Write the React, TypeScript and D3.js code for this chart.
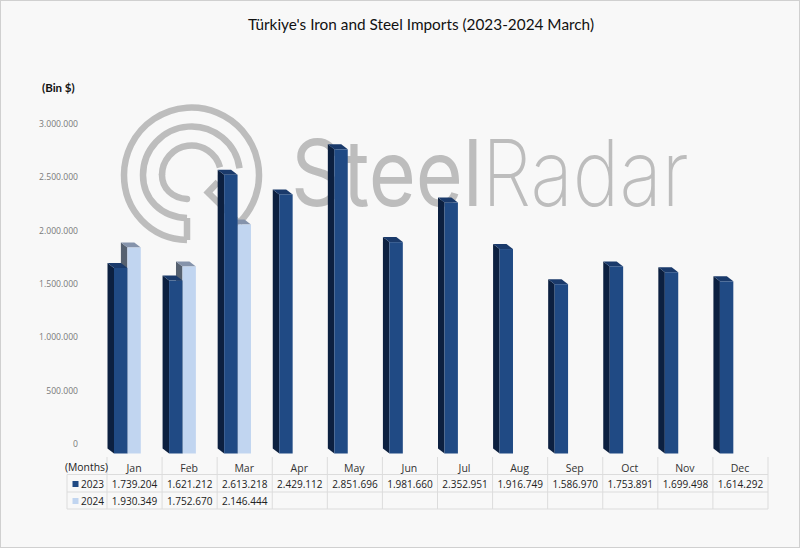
import React from "react";
import * as d3 from "d3";

const months = ["Jan", "Feb", "Mar", "Apr", "May", "Jun", "Jul", "Aug", "Sep", "Oct", "Nov", "Dec"];
const values2023 = [1739204, 1621212, 2613218, 2429112, 2851696, 1981660, 2352951, 1916749, 1586970, 1753891, 1699498, 1614292];
const values2024 = [1930349, 1752670, 2146444];
const yTicks = [0, 500000, 1000000, 1500000, 2000000, 2500000, 3000000];
const title = "Türkiye's Iron and Steel Imports (2023-2024 March)";

const W = 800;
const H = 548;
const FONT = "Lato, 'Open Sans', sans-serif";
const TABLE_FONT = "'Open Sans', Lato, sans-serif";
const fmt = d3.formatLocale({ decimal: ",", thousands: ".", grouping: [3], currency: ["", ""] }).format(",d");

const y = d3.scaleLinear().domain([0, 3000000]).range([453.5, 133.5]);
const x = d3.scaleBand<string>().domain(months).range([107, 768]);
const DX = 6.5;
const DY = 5;
const BAR = 13.4;

const poly = (pts: [number, number][]) => d3.line()(pts) + "Z";

type Colors = { front: string; side: string; top: string };
const C23: Colors = { front: "#204a84", side: "#0c2040", top: "#1a3a6b" };
const C24: Colors = { front: "#c1d5f0", side: "#566170", top: "#8593ab" };

function Bar({ x0, v, c }: { x0: number; v: number; c: Colors }) {
  const t = y(v);
  const b = y(0);
  return (
    <g>
      <path d={poly([[x0, t], [x0, b], [x0 - DX, b - DY], [x0 - DX, t - DY]])} fill={c.side} />
      <path d={poly([[x0 - DX, t - DY], [x0 + BAR - DX, t - DY], [x0 + BAR, t], [x0, t]])} fill={c.top} />
      <rect x={x0} y={t} width={BAR} height={b - t} fill={c.front} />
    </g>
  );
}

function Logo() {
  const cx = 191.5;
  const cy = 175;
  const rad = (d: number) => (d * Math.PI) / 180;
  const arc = (r: number, a0: number, a1: number) => {
    const p = d3.path();
    p.arc(cx, cy, r, rad(a0), rad(a1), false);
    return p.toString();
  };
  const stroke = { fill: "none", stroke: "#bdbdbd", strokeWidth: 6.5 };
  return (
    <g>
      <path d={arc(67.5, 180, 405)} {...stroke} />
      <path d={"M187,240 C150,239 124,210 124,175"} {...stroke} />
      <path d={arc(48.5, 180, 352)} {...stroke} />
      <path d={"M187,218 C161,217 143,199 143,175"} {...stroke} />
      <path d={arc(29.5, 180, 345)} {...stroke} />
      <path d={"M187,199 C172,198 162,188 162,175"} {...stroke} strokeLinecap="round" />
      <path d="M187,240 L187,218" {...stroke} />
      <path d="M218,182 L208,192.5 L240,224" {...stroke} />
    </g>
  );
}

export default function App() {
  const rowLeft = 67;
  const right = 768;
  const lineColor = "#dcdcdc";
  return (
    <svg
      width={W}
      height={H}
      viewBox={`0 0 ${W} ${H}`}
      style={{ position: "fixed", left: 0, top: 0, display: "block" }}
      fontFamily={FONT}
    >
      <rect x={0.5} y={0.5} width={W - 1} height={H - 1} fill="#f8f8f8" stroke="#d0d0d0" />

      <Logo />
      <text transform="translate(291,206) scale(0.88,1)" fontSize={92} fontFamily="Inter" fill="#bdbdbd" fontWeight={400}>Steel</text>
      <text transform="translate(482,206) scale(0.856,1)" fontSize={92} fontFamily="Inter" fill="#bdbdbd" fontWeight={200}>Radar</text>

      <text x={421} y={30} textAnchor="middle" fontSize={16} fill="#111" textLength={346} lengthAdjust="spacingAndGlyphs">{title}</text>
      <text x={42} y={92} fontSize={11.5} fontWeight={700} fill="#111">(Bin $)</text>

      {yTicks.map((t) => (
        <text key={t} x={78} y={y(t) - 9.5 + 3} textAnchor="end" fontSize={8.6} fontFamily={TABLE_FONT} fill="#7a7a7a">{fmt(t)}</text>
      ))}

      {values2024.map((v, i) => (
        <Bar key={"b24" + i} x0={(x(months[i]) as number) + 7 + BAR} v={v} c={C24} />
      ))}
      {values2023.map((v, i) => (
        <Bar key={"b23" + i} x0={(x(months[i]) as number) + 7} v={v} c={C23} />
      ))}

      <g stroke={lineColor} strokeWidth={1}>
        {[474.5, 492, 509].map((ly) => (
          <line key={ly} x1={rowLeft} x2={right} y1={ly} y2={ly} />
        ))}
        <line x1={rowLeft} x2={rowLeft} y1={474.5} y2={509} />
        {months.map((m) => (
          <line key={m} x1={x(m)} x2={x(m)} y1={457} y2={509} />
        ))}
        <line x1={right} x2={right} y1={457} y2={509} />
      </g>

      <g fontFamily={TABLE_FONT} fill="#222">
        <text x={65} y={470.5} fontSize={10.8} textLength={43} lengthAdjust="spacingAndGlyphs">(Months)</text>
        {months.map((m) => (
          <text key={m} x={(x(m) as number) + x.bandwidth() / 2 - 0.5} y={472} textAnchor="middle" fontSize={10.5} fill="#333">{m}</text>
        ))}

        <rect x={72.5} y={481} width={6} height={6} fill={C23.front} />
        <text x={81} y={488} fontSize={11} textLength={23} lengthAdjust="spacingAndGlyphs">2023</text>
        <rect x={72.5} y={498} width={6} height={6} fill={C24.front} />
        <text x={81} y={505} fontSize={11} textLength={23} lengthAdjust="spacingAndGlyphs">2024</text>

        {values2023.map((v, i) => (
          <text key={"t23" + i} x={(x(months[i]) as number) + x.bandwidth() / 2} y={488} textAnchor="middle" fontSize={10.8} textLength={45.5} lengthAdjust="spacingAndGlyphs">{fmt(v)}</text>
        ))}
        {values2024.map((v, i) => (
          <text key={"t24" + i} x={(x(months[i]) as number) + x.bandwidth() / 2} y={505} textAnchor="middle" fontSize={10.8} textLength={45.5} lengthAdjust="spacingAndGlyphs">{fmt(v)}</text>
        ))}
      </g>
    </svg>
  );
}
